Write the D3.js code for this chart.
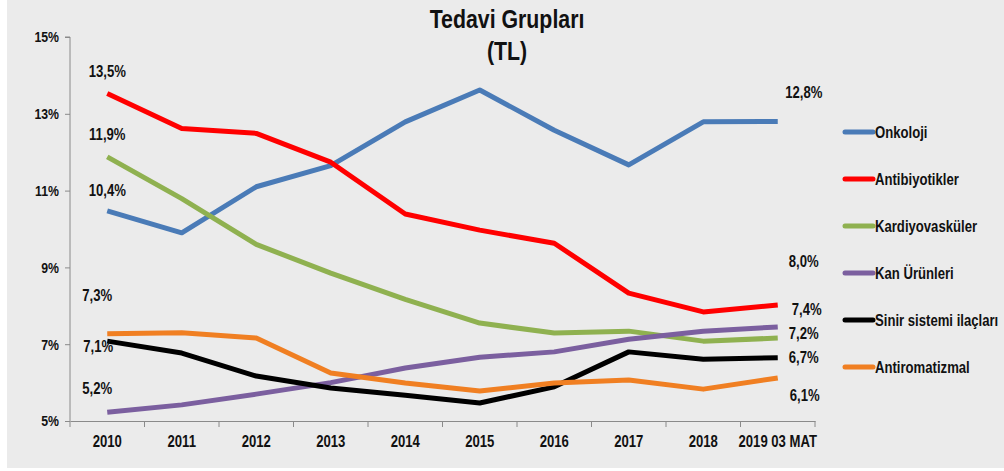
<!DOCTYPE html>
<html>
<head>
<meta charset="utf-8">
<script src="https://cdn.jsdelivr.net/npm/d3@7"></script>
<style>
  body { margin: 0; background: #ffffff; }
  svg text { font-family: "Liberation Sans", Arial, sans-serif; font-weight: bold; fill: #111; }
  .axis path, .axis line { stroke: #8a8a8a; }
</style>
</head>
<body>
<div id="chart"></div>
<script>
/**
 * DATA
 * */
const years = ["2010", "2011", "2012", "2013", "2014", "2015", "2016", "2017", "2018", "2019 03 MAT"];
const yTicks = [5, 7, 9, 11, 13, 15];

const onkoloji = [10.47, 9.9, 11.1, 11.65, 12.79, 13.62, 12.57, 11.67, 12.79, 12.8];
const antibiyotikler = [13.53, 12.62, 12.49, 11.74, 10.39, 9.97, 9.63, 8.33, 7.84, 8.02];
const kardiyovaskuler = [11.88, 10.79, 9.6, 8.85, 8.17, 7.55, 7.29, 7.34, 7.08, 7.16];
const kanUrunleri = [5.23, 5.42, 5.7, 6.0, 6.38, 6.66, 6.8, 7.13, 7.34, 7.45];
const sinirSistemi = [7.08, 6.77, 6.17, 5.86, 5.67, 5.47, 5.89, 6.8, 6.61, 6.65];
const antiromatizmal = [7.27, 7.3, 7.16, 6.25, 5.99, 5.78, 5.99, 6.07, 5.83, 6.12];

const seriesNames = ["Onkoloji", "Antibiyotikler", "Kardiyovasküler", "Kan Ürünleri", "Sinir sistemi ilaçları", "Antiromatizmal"];
// labels printed at the first and last point of each line
const firstLabels = ["10,4%", "13,5%", "11,9%", "5,2%", "7,1%", "7,3%"];
const lastLabels = ["12,8%", "8,0%", "7,2%", "7,4%", "6,7%", "6,1%"];

/**
 * LAYOUT / STYLE
 * */
const width = 1004,
  height = 471,
  margin = { top: 37, bottom: 50, left: 70, right: 189 },
  narrow = 0.82; // horizontal squeeze, mimics a narrow bold face

const colors = ["#4a7bb7", "#ff0000", "#8fb150", "#7b5f9f", "#000000", "#f07f22"];
// label offsets from their point [dx, dy]
const firstOffsets = [[0, -21], [0, -22], [0, -22], [-10, -24], [-9, 5], [-10, -38]];
const lastOffsets = [[26, -29], [26, -44], [26, -5], [29, -18], [26, 0], [27, 17]];

const seriesValues = [onkoloji, antibiyotikler, kardiyovaskuler, kanUrunleri, sinirSistemi, antiromatizmal];
const series = seriesNames.map((name, i) => ({
  name,
  color: colors[i],
  values: seriesValues[i].map((v, j) => ({ year: years[j], value: v }))
}));

const svg = d3.select("#chart")
  .append("svg")
  .attr("width", width)
  .attr("height", height);

// gray slide background
svg.append("rect")
  .attr("x", 7).attr("y", 0)
  .attr("width", width - 7).attr("height", 468)
  .attr("fill", "#ebebeb");

// helper for squeezed text
function narrowText(parent, x, y, txt, size, anchor) {
  return parent.append("g")
    .attr("transform", `translate(${x},${y}) scale(${narrow},1)`)
    .append("text")
    .attr("text-anchor", anchor || "middle")
    .style("font-size", size + "px")
    .text(txt);
}

// SCALES
const xScale = d3.scaleBand()
  .domain(years)
  .range([margin.left, width - margin.right]);

const yScale = d3.scaleLinear()
  .domain([5, 15])
  .range([height - margin.bottom, margin.top]);

const xPos = d => xScale(d) + xScale.bandwidth() / 2;

// TITLE
narrowText(svg, 507, 28, "Tedavi Grupları", 26);
narrowText(svg, 507, 60, "(TL)", 26);

// AXES
const yAxis = d3.axisLeft(yScale)
  .tickValues(yTicks)
  .tickSize(5)
  .tickFormat(d => d + "%");

svg.append("g")
  .attr("class", "axis y-axis")
  .attr("transform", `translate(${margin.left},0)`)
  .call(yAxis)
  .call(g => g.select(".domain").attr("d", `M-5,${yScale(15)}H0V${yScale(5)}`))
  .selectAll("text")
  .attr("x", -11 / narrow)
  .attr("transform", `scale(${narrow},1)`)
  .style("font-size", "15px");

const xAxis = d3.axisBottom(xScale).tickSize(0).tickPadding(15);
const xg = svg.append("g")
  .attr("class", "axis x-axis")
  .attr("transform", `translate(0,${height - margin.bottom})`)
  .call(xAxis);
xg.selectAll("text")
  .attr("transform", `scale(${narrow},1)`)
  .style("font-size", "16px");
// move the text group so scaling stays centred on each tick
xg.selectAll(".tick text").attr("transform", `scale(${narrow},1)`);
// ticks on band boundaries
xg.selectAll(".bound")
  .data(years.concat(["end"]))
  .join("line")
  .attr("class", "bound")
  .attr("x1", (d, i) => margin.left + i * xScale.bandwidth())
  .attr("x2", (d, i) => margin.left + i * xScale.bandwidth())
  .attr("y1", 0)
  .attr("y2", 6);

// LINES
const line = d3.line()
  .x(d => xPos(d.year))
  .y(d => yScale(d.value));

svg.selectAll(".series")
  .data(series)
  .join("path")
  .attr("class", "series")
  .attr("fill", "none")
  .attr("stroke", d => d.color)
  .attr("stroke-width", 5)
  .attr("stroke-linejoin", "round")
  .attr("d", d => line(d.values));

// DATA LABELS
series.forEach((s, i) => {
  const first = s.values[0];
  const last = s.values[s.values.length - 1];
  narrowText(svg, xPos(first.year) + firstOffsets[i][0], yScale(first.value) + firstOffsets[i][1], firstLabels[i], 16)
    .attr("dy", "0.35em");
  narrowText(svg, xPos(last.year) + lastOffsets[i][0], yScale(last.value) + lastOffsets[i][1], lastLabels[i], 16)
    .attr("dy", "0.35em");
});

// LEGEND
const legend = svg.selectAll(".legend")
  .data(series)
  .join("g")
  .attr("class", "legend")
  .attr("transform", (d, i) => `translate(845,${132 + i * 47})`);

legend.append("line")
  .attr("x1", 0).attr("x2", 28)
  .attr("stroke", d => d.color)
  .attr("stroke-width", 5)
  .attr("stroke-linecap", "round");

legend.each(function(d) {
  narrowText(d3.select(this), 30, 0, d.name, 16, "start").attr("dy", "0.35em");
});
</script>
</body>
</html>
